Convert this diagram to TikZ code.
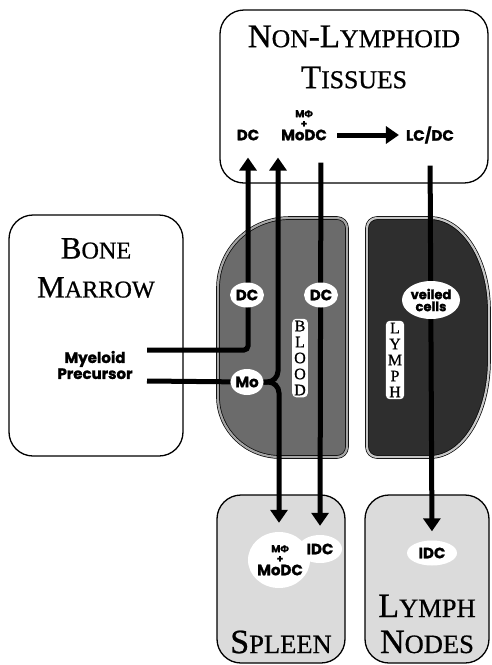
\documentclass[tikz,border=0pt]{standalone}
\usepackage{fontspec}
\newfontfamily\cellfont{Poppins}[BoldFeatures={FakeBold=1.3}]
\newfontfamily\greekfont{Fira Sans}[BoldFeatures={FakeBold=1.3}]
\newfontfamily\titlefont{Liberation Serif}[FakeBold=0.7]
\newfontfamily\titlesmall{Liberation Serif}[Scale=0.78, FakeBold=0.7]
\usetikzlibrary{positioning, arrows.meta, shapes.geometric}
\pgfdeclarelayer{back}
\pgfdeclarelayer{mid}
\pgfsetlayers{back,mid,main}
\newcommand{\mphi}{M{\greekfont\bfseries Φ}}
\newcommand{\lowcaps}[1]{{\titlesmall #1}}

\begin{document}
\begin{tikzpicture}[
    x=1pt, y=-1pt,
    box/.style={draw, line width=1.3pt, rounded corners=24pt, fill=white},
    organ/.style={box, fill=gray!28},
    vessel/.style={draw=black, line width=0.7pt, double=gray!70, double distance=2.2pt},
    flow/.style={line width=5pt, -{Triangle[length=13pt, width=17pt]}},
    trunk/.style={line width=5pt},
    tag/.style={inner sep=1pt, font=\cellfont\bfseries\fontsize{15}{15}\selectfont},
    smalltag/.style={inner sep=0pt, align=center, font=\cellfont\bfseries\fontsize{10}{10}\selectfont},
    cell/.style={tag, ellipse, fill=white, inner sep=0pt},
    title/.style={align=center, font=\titlefont\fontsize{33}{41}\selectfont},
    vlabel/.style={fill=white, rounded corners=4pt, align=center, inner sep=2pt, font=\titlefont\fontsize{16}{16}\selectfont},
]
\useasboundingbox (0,0) rectangle (491,665);

% Compartments
\begin{pgfonlayer}{back}
\node[box, minimum width=268pt, minimum height=173pt] (tissues) at (354,96.5) {};
\node[box, minimum width=174pt, minimum height=241pt] (marrow) at (96,335.5) {};
\node[organ, minimum width=128pt, minimum height=168pt] (spleen) at (281,579) {};
\node[organ, minimum width=124pt, minimum height=168pt] (lnodes) at (427,579) {};

% Blood and lymph
\path[vessel, fill=black!58] (218,288) .. controls (218,249) and (250,218) .. (290,218)
    -- (337,218) .. controls (342.5,218) and (347,222.5) .. (347,228)
    -- (347,447) .. controls (347,452.5) and (342.5,457) .. (337,457)
    -- (280,457) .. controls (246,457) and (218,430) .. (218,397) -- cycle;
\path[vessel, double=gray!45, fill=black!82] (377,218) -- (430,218)
    .. controls (463,218) and (489,260) .. (489,310)
    -- (489,360) .. controls (489,414) and (463,457) .. (430,457)
    -- (377,457) .. controls (371.5,457) and (367,452.5) .. (367,447)
    -- (367,228) .. controls (367,222.5) and (371.5,218) .. (377,218) -- cycle;
\end{pgfonlayer}

% Titles
\node[title] (tistitle) at (354,57) {N\lowcaps{ON}-L\lowcaps{YMPHOID}\\T\lowcaps{ISSUES}};
\node[title, font=\titlefont\fontsize{31}{39}\selectfont] (bmtitle) at (96,268) {B\lowcaps{ONE}\\M\lowcaps{ARROW}};
\node[title, font=\titlefont\fontsize{34}{36}\selectfont] (sptitle) at (281,642) {S\lowcaps{PLEEN}};
\node[title, font=\titlefont\fontsize{34}{36}\selectfont] (lntitle) at (427,624) {L\lowcaps{YMPH}\\N\lowcaps{ODES}};

% Cells in tissues
\node[tag] (dctop) at (248,135) {DC};
\node[tag] (modctop) at (304,135) {MoDC};
\node[smalltag, above=1pt of modctop] (mphitop) {\mphi\\+};
\node[tag] (lcdc) at (430,135) {LC/DC};

% Bone marrow
\node[tag, align=center, font=\cellfont\bfseries\fontsize{15}{16}\selectfont] (myeloid) at (95,365) {Myeloid\\Precursor};
\coordinate (prec1) at (147,350);
\coordinate (prec2) at (147,381);

% Blood and lymph cells
\node[cell, minimum width=34pt, minimum height=25pt] (dcblood) at (247,295) {DC};
\node[cell, minimum width=34pt, minimum height=25pt] (dcblood2) at (321,295) {DC};
\node[cell, minimum width=32pt, minimum height=26pt] (mo) at (247,382) {Mo};
\node[cell, align=center, minimum width=58pt, minimum height=38pt, font=\cellfont\bfseries\fontsize{13}{12}\selectfont] (veiled) at (431,300) {veiled\\cells};
\node[vlabel] (bloodlbl) at (300,358) {B\\L\\O\\O\\D};
\node[vlabel] (lymphlbl) at (395,360) {L\\Y\\M\\P\\H};

% Cells in spleen and lymph nodes
\node[cell, minimum width=62pt, minimum height=56pt] (splblob) at (279,560) {};
\node[cell, minimum width=44pt, minimum height=28pt] (idcspl) at (320,549) {IDC};
\node[tag] (modcspl) at (280,570) {MoDC};
\node[smalltag, above=1pt of modcspl] (mphispl) {\mphi\\+};
\node[cell, minimum width=50pt, minimum height=25pt] (idcln) at (432,553) {IDC};

% Connectors
\begin{pgfonlayer}{mid}
\draw[flow, rounded corners=4pt, shorten >=16pt] (prec1) -| (dctop.south);
\draw[trunk] (prec2) -- (mo);
\draw[flow, rounded corners=11pt, shorten >=16pt] (mo.east) -| ([xshift=-26pt]modctop.south);
\draw[flow, rounded corners=11pt, shorten >=9pt] (mo.east) -| (splblob.north);
\draw[flow, shorten <=21pt, shorten >=9pt] ([xshift=17pt]modctop.south) -- (idcspl.north);
\draw[flow, shorten <=21pt, shorten >=9pt] (lcdc.south) -- (idcln.north);
\draw[flow, shorten <=9pt, shorten >=6pt] (modctop.east) -- (lcdc.west);
\end{pgfonlayer}

\end{tikzpicture}
\end{document}
